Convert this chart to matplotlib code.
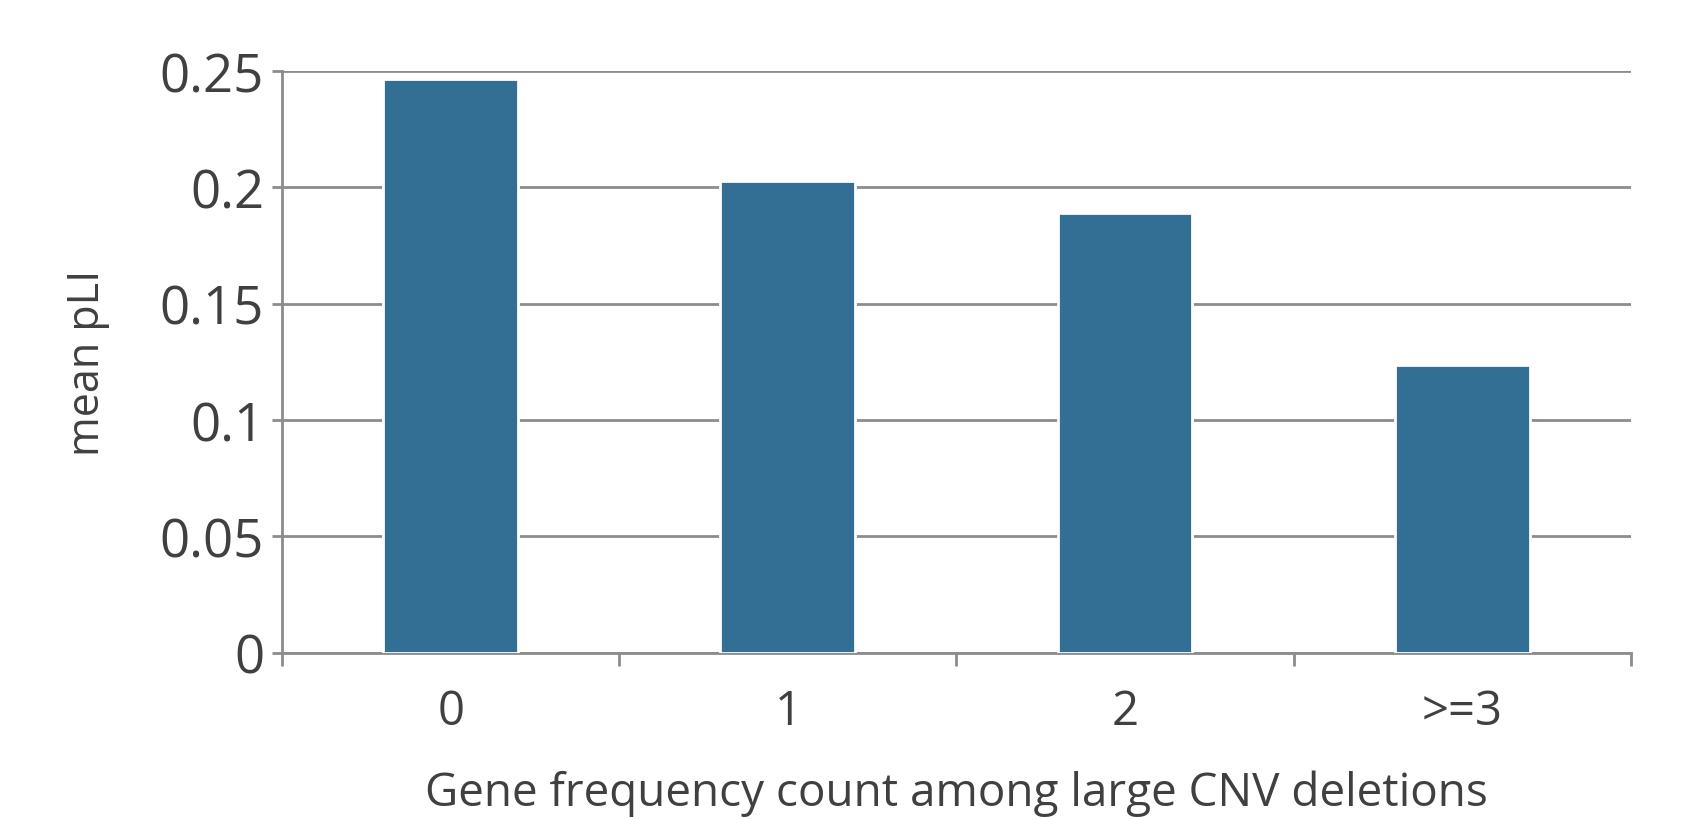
import matplotlib
matplotlib.use("Agg")
import matplotlib.pyplot as plt
from matplotlib.ticker import FixedLocator, NullFormatter, FixedFormatter

categories = ["0", "1", "2", ">=3"]
mean_pli = [0.2468, 0.2028, 0.1889, 0.1236]
yticks = [0, 0.05, 0.1, 0.15, 0.2, 0.25]
ytick_labels = ["0", "0.05", "0.1", "0.15", "0.2", "0.25"]

plt.rcParams["font.family"] = ["Open Sans", "DejaVu Sans"]
text_color = "#404040"
grid_color = "#8c8c8c"

fig = plt.figure(figsize=(16.83, 8.2), dpi=100)
ax = fig.add_axes([0.1676, 0.203, 0.8014, 0.709])

x = list(range(len(categories)))
ax.bar(x, mean_pli, width=0.4, color="#336e94", edgecolor="white",
       linewidth=2, zorder=3)

ax.set_xlim(-0.5, len(categories) - 0.5)
ax.set_ylim(0, 0.25)

# Style
ax.set_yticks(yticks)
ax.set_yticklabels(ytick_labels, fontsize=38, color=text_color)
ax.yaxis.grid(True, color=grid_color, linewidth=2, zorder=0)
ax.set_axisbelow(True)

# boundary ticks on x, labels centred on the bars
ax.xaxis.set_major_locator(FixedLocator([i - 0.5 for i in range(len(categories) + 1)]))
ax.xaxis.set_major_formatter(NullFormatter())
ax.xaxis.set_minor_locator(FixedLocator(x))
ax.xaxis.set_minor_formatter(FixedFormatter(categories))
ax.tick_params(axis="x", which="major", length=9, width=2, color=grid_color)
ax.tick_params(axis="x", which="minor", length=0, pad=25, labelsize=34,
               labelcolor=text_color)
ax.tick_params(axis="y", length=7, width=2, color=grid_color, pad=6)

for side in ["top", "right"]:
    ax.spines[side].set_visible(False)
for side in ["left", "bottom"]:
    ax.spines[side].set_color(grid_color)
    ax.spines[side].set_linewidth(2)

ax.set_xlabel("Gene frequency count among large CNV deletions", fontsize=33,
              color=text_color, labelpad=25)
ax.set_ylabel("mean pLI", fontsize=31, color=text_color, labelpad=36)

fig.savefig("out.png", dpi=100)
